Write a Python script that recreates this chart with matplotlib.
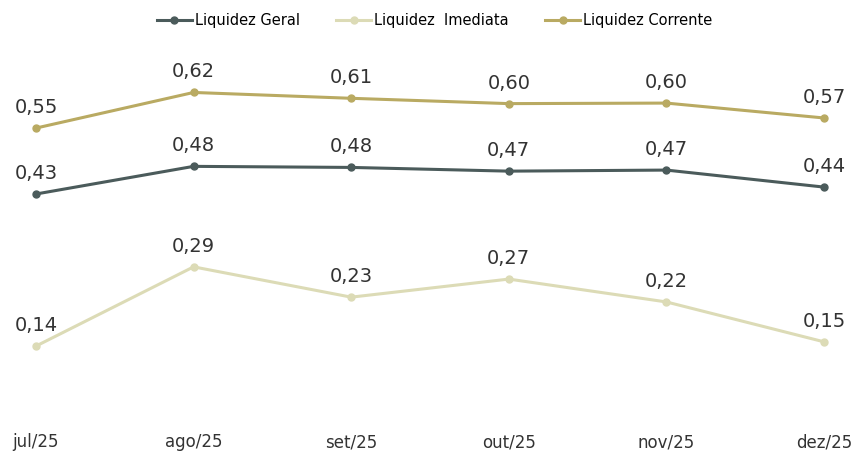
import matplotlib.pyplot as plt

# categories and series
meses = ["jul/25", "ago/25", "set/25", "out/25", "nov/25", "dez/25"]
geral = [0.426, 0.478, 0.476, 0.469, 0.471, 0.439]
imediata = [0.140, 0.289, 0.232, 0.266, 0.223, 0.148]
corrente = [0.550, 0.617, 0.606, 0.596, 0.597, 0.569]

series = [("Liquidez Geral", geral, "#4b5b5b"),
          ("Liquidez  Imediata", imediata, "#dcdbb6"),
          ("Liquidez Corrente", corrente, "#b9aa62")]

fig = plt.figure(figsize=(8.52, 4.55), dpi=100)
ax = fig.add_axes([36/852, 0.0758, (824-36)/852, 0.818])

x = list(range(len(meses)))
for nome, vals, cor in series:
    ax.plot(x, vals, color=cor, linewidth=2.2, marker="o", markersize=5,
            label=nome, clip_on=False)
    for xi, v in zip(x, vals):
        ax.annotate(f"{v:.2f}".replace(".", ","), (xi, v), xytext=(0, 8),
                    textcoords="offset points", ha="center", va="bottom",
                    fontsize=14, color="#333333")

ax.set_xlim(0, 5)
ax.set_ylim(0, 0.7)
ax.set_xticks(x)
ax.set_xticklabels(meses, fontsize=12, color="#333333")
ax.tick_params(axis="x", length=0, pad=9)
ax.set_yticks([])
for s in ax.spines.values():
    s.set_visible(False)

fig.legend(loc="upper center", bbox_to_anchor=(0.51, 1.0), ncol=3, frameon=False,
           fontsize=10.5, handlelength=2.4, handletextpad=0.2, columnspacing=2.5)

fig.savefig("out.png", dpi=100)
